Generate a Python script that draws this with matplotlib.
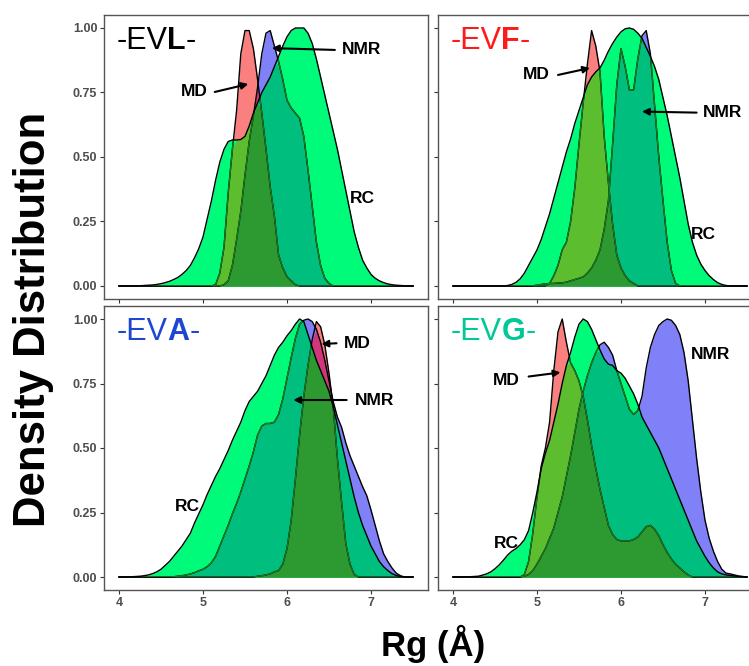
import numpy as np
import matplotlib
matplotlib.use('Agg')
import matplotlib.pyplot as plt

plt.rcParams['font.family'] = ['Liberation Sans', 'DejaVu Sans']

# Rg grid (Angstrom), 4.00 .. 7.50 in 0.05 steps
rg = np.round(np.arange(0, 71) * 0.05 + 4.0, 2)

# scaled densities, one value per grid point
evl_rc = [0, 0, 0, 0, 0, 0.001, 0.002, 0.003, 0.004, 0.006,
          0.009, 0.013, 0.018, 0.025, 0.033, 0.045, 0.06, 0.08, 0.11, 0.145,
          0.19, 0.26, 0.33, 0.41, 0.48, 0.53, 0.56, 0.566, 0.566, 0.568,
          0.58, 0.62, 0.67, 0.71, 0.75, 0.78, 0.81, 0.85, 0.89, 0.93,
          0.966, 0.99, 1.0, 1.0, 1.0, 0.98, 0.94, 0.88, 0.81, 0.74,
          0.67, 0.60, 0.53, 0.45, 0.37, 0.29, 0.21, 0.15, 0.10, 0.07,
          0.045, 0.03, 0.02, 0.013, 0.008, 0.005, 0.003, 0.002, 0.001, 0,
          0]
evl_md = [0] * 20 + [
          0, 0, 0, 0.005, 0.05, 0.15, 0.36, 0.53, 0.68, 0.90,
          0.99, 0.99, 0.92, 0.80, 0.67, 0.53, 0.385, 0.27, 0.12, 0.07,
          0.036, 0.02, 0.005, 0, 0, 0, 0, 0, 0, 0,
          0, 0, 0, 0, 0, 0, 0, 0, 0, 0,
          0, 0, 0, 0, 0, 0, 0, 0, 0, 0,
          0]
evl_nmr = [0] * 20 + [
           0, 0, 0, 0, 0, 0.005, 0.02, 0.08, 0.18, 0.29,
           0.43, 0.56, 0.66, 0.77, 0.90, 0.98, 0.99, 0.93, 0.87, 0.80,
           0.72, 0.69, 0.67, 0.65, 0.58, 0.45, 0.31, 0.17, 0.08, 0.03,
           0.01, 0, 0, 0, 0, 0, 0, 0, 0, 0,
           0, 0, 0, 0, 0, 0, 0, 0, 0, 0,
           0]

evf_rc = [0] * 10 + [
          0, 0, 0, 0.002, 0.006, 0.014, 0.028, 0.05, 0.08, 0.11,
          0.14, 0.18, 0.23, 0.28, 0.34, 0.40, 0.46, 0.52, 0.57, 0.63,
          0.68, 0.73, 0.78, 0.81, 0.83, 0.845, 0.875, 0.91, 0.94, 0.965,
          0.985, 0.997, 1.0, 0.995, 0.98, 0.96, 0.925, 0.89, 0.85, 0.80,
          0.73, 0.66, 0.58, 0.50, 0.42, 0.33, 0.24, 0.17, 0.12, 0.085,
          0.06, 0.04, 0.025, 0.013, 0.006, 0.002, 0, 0, 0, 0,
          0]
evf_md = [0] * 20 + [
          0, 0, 0, 0.01, 0.04, 0.08, 0.14, 0.17, 0.25, 0.38,
          0.55, 0.71, 0.86, 0.99, 0.93, 0.83, 0.58, 0.40, 0.24, 0.12,
          0.07, 0.04, 0.02, 0.01, 0, 0, 0, 0, 0, 0,
          0, 0, 0, 0, 0, 0, 0, 0, 0, 0,
          0, 0, 0, 0, 0, 0, 0, 0, 0, 0,
          0]
evf_nmr = [0] * 19 + [0.001,
           0.003, 0.006, 0.008, 0.01, 0.01, 0.012, 0.012, 0.015, 0.02, 0.025,
           0.03, 0.035, 0.05, 0.07, 0.10, 0.14, 0.22, 0.33, 0.55, 0.78,
           0.92, 0.85, 0.76, 0.76, 0.88, 0.97, 0.99, 0.90, 0.70, 0.50,
           0.33, 0.17, 0.06, 0.01, 0, 0, 0, 0, 0, 0,
           0, 0, 0, 0, 0, 0, 0, 0, 0, 0,
           0]

eva_rc = [0, 0, 0, 0.001, 0.002, 0.003, 0.005, 0.008, 0.013, 0.02,
          0.03, 0.045, 0.06, 0.08, 0.10, 0.12, 0.145, 0.17, 0.21, 0.245,
          0.28, 0.32, 0.355, 0.39, 0.42, 0.455, 0.49, 0.53, 0.565, 0.60,
          0.645, 0.68, 0.70, 0.72, 0.75, 0.78, 0.82, 0.86, 0.89, 0.91,
          0.935, 0.955, 0.98, 1.0, 0.99, 0.94, 0.89, 0.84, 0.80, 0.76,
          0.72, 0.66, 0.59, 0.52, 0.45, 0.38, 0.31, 0.25, 0.20, 0.16,
          0.12, 0.09, 0.06, 0.04, 0.025, 0.013, 0.006, 0.002, 0, 0,
          0]
eva_md = [0] * 30 + [
          0, 0, 0, 0.003, 0.005, 0.008, 0.012, 0.02, 0.025, 0.05,
          0.11, 0.22, 0.38, 0.55, 0.70, 0.82, 0.92, 0.99, 0.97, 0.90,
          0.79, 0.66, 0.46, 0.29, 0.13, 0.05, 0.01, 0, 0, 0,
          0, 0, 0, 0, 0, 0, 0, 0, 0, 0,
          0]
eva_nmr = [0] * 10 + [
           0, 0, 0, 0.001, 0.003, 0.005, 0.008, 0.012, 0.017, 0.024,
           0.03, 0.04, 0.055, 0.08, 0.12, 0.16, 0.20, 0.245, 0.285, 0.33,
           0.38, 0.43, 0.485, 0.55, 0.585, 0.595, 0.595, 0.60, 0.63, 0.69,
           0.77, 0.85, 0.925, 0.98, 0.995, 1.0, 0.99, 0.96, 0.91, 0.84,
           0.76, 0.68, 0.62, 0.58, 0.52, 0.47, 0.43, 0.39, 0.35, 0.315,
           0.26, 0.20, 0.14, 0.09, 0.06, 0.035, 0.015, 0.005, 0, 0,
           0]

evg_rc = [0, 0, 0, 0.001, 0.001, 0.002, 0.003, 0.007, 0.012, 0.02,
          0.032, 0.047, 0.065, 0.085, 0.10, 0.11, 0.125, 0.145, 0.18, 0.25,
          0.33, 0.42, 0.48, 0.53, 0.60, 0.67, 0.75, 0.82, 0.87, 0.93,
          0.98, 1.0, 0.99, 0.96, 0.92, 0.88, 0.845, 0.825, 0.82, 0.80,
          0.79, 0.77, 0.74, 0.71, 0.67, 0.62, 0.59, 0.56, 0.53, 0.50,
          0.46, 0.42, 0.38, 0.34, 0.30, 0.26, 0.22, 0.18, 0.14, 0.11,
          0.08, 0.055, 0.035, 0.02, 0.012, 0.008, 0.006, 0.004, 0.002, 0.001,
          0]
evg_md = [0] * 10 + [
          0, 0, 0, 0, 0, 0, 0, 0.01, 0.06, 0.17,
          0.31, 0.43, 0.50, 0.60, 0.80, 0.95, 1.0, 0.91, 0.83, 0.80,
          0.76, 0.70, 0.61, 0.51, 0.42, 0.34, 0.27, 0.20, 0.165, 0.145,
          0.14, 0.14, 0.14, 0.145, 0.155, 0.175, 0.195, 0.20, 0.185, 0.16,
          0.125, 0.095, 0.07, 0.05, 0.035, 0.02, 0.008, 0, 0, 0,
          0, 0, 0, 0, 0, 0, 0, 0, 0, 0,
          0]
evg_nmr = [0] * 10 + [
           0, 0, 0, 0, 0, 0, 0, 0.003, 0.01, 0.025,
           0.05, 0.08, 0.11, 0.15, 0.19, 0.25, 0.31, 0.39, 0.47, 0.56,
           0.65, 0.72, 0.78, 0.83, 0.87, 0.90, 0.91, 0.89, 0.86, 0.80,
           0.75, 0.70, 0.65, 0.63, 0.645, 0.70, 0.81, 0.89, 0.94, 0.975,
           0.99, 1.0, 0.995, 0.975, 0.94, 0.87, 0.76, 0.61, 0.46, 0.33,
           0.22, 0.15, 0.10, 0.06, 0.03, 0.015, 0.012, 0.008, 0.004, 0.002,
           0]

x_ticks = [4, 5, 6, 7]
y_ticks = [0.00, 0.25, 0.50, 0.75, 1.00]

# fill colours for each overlap combination
C_MD = '#fa7f7f'
C_NMR = '#8080f8'
C_MDNMR = '#d2367a'
C_RC = '#00fa7a'
C_RCMD = '#5cbe2e'
C_RCNMR = '#00be7e'
C_ALL = '#2c9a30'
C_INNER = '#1e7b1e'


def draw_panel(ax, md, nmr, rc):
    md, nmr, rc = np.asarray(md), np.asarray(nmr), np.asarray(rc)
    ax.fill_between(rg, 0, md, color=C_MD, lw=0)
    ax.fill_between(rg, 0, nmr, color=C_NMR, lw=0)
    ax.fill_between(rg, 0, np.minimum(md, nmr), color=C_MDNMR, lw=0)
    ax.plot(rg, md, color='black', lw=1.0)
    ax.plot(rg, nmr, color='black', lw=1.0)
    rc_fill = ax.fill_between(rg, 0, rc, color=C_RC, lw=0)
    ax.fill_between(rg, 0, np.minimum(rc, md), color=C_RCMD, lw=0)
    ax.fill_between(rg, 0, np.minimum(rc, nmr), color=C_RCNMR, lw=0)
    ax.fill_between(rg, 0, np.minimum(np.minimum(rc, md), nmr), color=C_ALL, lw=0)
    clip = rc_fill.get_paths()[0]
    for y in (md, nmr):
        ln, = ax.plot(rg, y, color=C_INNER, lw=0.9)
        ln.set_clip_path(clip, ax.transData)
    ax.plot(rg, rc, color='black', lw=1.0)


def panel_title(ax, pieces, color):
    prev = ax.text(3.97, 0.89, pieces[0][0], fontsize=22, color=color,
                   fontweight=pieces[0][1], ha='left', va='bottom')
    for txt, w in pieces[1:]:
        prev = ax.annotate(txt, xy=(1, 0), xycoords=prev, fontsize=22,
                           color=color, fontweight=w, ha='left', va='bottom')


def label(ax, txt, pos, tail=None, head=None):
    ax.text(pos[0], pos[1], txt, fontsize=12.5, fontweight='bold',
            ha='center', va='center')
    if tail is not None:
        ax.annotate('', xy=head, xytext=tail,
                    arrowprops=dict(arrowstyle='-|>', color='black', lw=1.5,
                                    mutation_scale=10, shrinkA=0, shrinkB=0))


fig = plt.figure(figsize=(7.49, 6.66), dpi=100)
W, H = 749, 666
pw, ph = 323.4 / W, 283.8 / H
ax_tl = fig.add_axes([104.3 / W, 1 - 298.9 / H, pw, ph])
ax_tr = fig.add_axes([438.3 / W, 1 - 298.9 / H, pw, ph])
ax_bl = fig.add_axes([104.3 / W, 1 - 589.9 / H, pw, ph])
ax_br = fig.add_axes([438.3 / W, 1 - 589.9 / H, pw, ph])

draw_panel(ax_tl, evl_md, evl_nmr, evl_rc)
draw_panel(ax_tr, evf_md, evf_nmr, evf_rc)
draw_panel(ax_bl, eva_md, eva_nmr, eva_rc)
draw_panel(ax_br, evg_md, evg_nmr, evg_rc)

for ax in (ax_tl, ax_tr, ax_bl, ax_br):
    ax.set_xlim(3.825, 7.675)
    ax.set_ylim(-0.05, 1.05)
    ax.set_xticks(x_ticks)
    ax.set_yticks(y_ticks)
    ax.set_xticklabels([str(t) for t in x_ticks])
    ax.set_yticklabels(['%.2f' % t for t in y_ticks])
    ax.tick_params(length=3, width=0.8, color='#333333', labelsize=9,
                   labelcolor='#4d4d4d', pad=2)
    for lab in ax.get_xticklabels() + ax.get_yticklabels():
        lab.set_fontweight('bold')
    for sp in ax.spines.values():
        sp.set_color('#555555')
        sp.set_linewidth(1.0)

ax_tl.tick_params(labelbottom=False)
ax_tr.tick_params(labelbottom=False, labelleft=False)
ax_br.tick_params(labelleft=False)

panel_title(ax_tl, [('-EV', 'normal'), ('L', 'bold'), ('-', 'normal')], 'black')
panel_title(ax_tr, [('-EV', 'normal'), ('F', 'bold'), ('-', 'normal')], '#ff1a1a')
panel_title(ax_bl, [('-EV', 'normal'), ('A', 'bold'), ('-', 'normal')], '#1e46d2')
panel_title(ax_br, [('-EV', 'normal'), ('G', 'bold'), ('-', 'normal')], '#00c896')

label(ax_tl, 'NMR', (6.89, 0.915), (6.57, 0.915), (5.82, 0.922))
label(ax_tl, 'MD', (4.90, 0.752), (5.14, 0.752), (5.54, 0.783))
label(ax_tl, 'RC', (6.90, 0.34))

label(ax_tr, 'MD', (4.99, 0.818), (5.25, 0.818), (5.63, 0.845))
label(ax_tr, 'NMR', (7.21, 0.672), (6.90, 0.672), (6.25, 0.676))
label(ax_tr, 'RC', (6.98, 0.198))

label(ax_bl, 'MD', (6.84, 0.906), (6.59, 0.906), (6.41, 0.903))
label(ax_bl, 'NMR', (7.04, 0.686), (6.71, 0.686), (6.075, 0.686))
label(ax_bl, 'RC', (4.81, 0.272))

label(ax_br, 'NMR', (7.07, 0.864))
label(ax_br, 'MD', (4.64, 0.761), (4.90, 0.777), (5.28, 0.793))
label(ax_br, 'RC', (4.63, 0.131))

fig.text(0.045, 0.52, 'Density Distribution', rotation=90, ha='center',
         va='center', fontsize=31.5, fontweight='bold')
fig.text(0.578, 0.015, 'Rg (Å)', ha='center', va='baseline', fontsize=25,
         fontweight='bold')

fig.savefig('out.png', dpi=100)
